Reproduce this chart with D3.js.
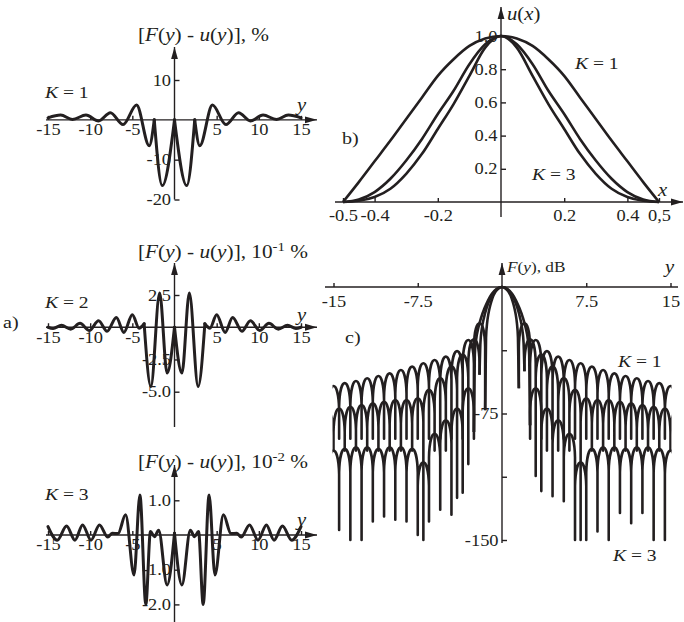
<!DOCTYPE html>
<html>
<head>
<meta charset="utf-8">
<script src="https://cdn.jsdelivr.net/npm/d3@7"></script>
<style>
  body { margin: 0; background: #fff; }
  svg { display: block; }
  text { font-family: "Liberation Serif", "Times New Roman", serif; white-space: pre; }
</style>
</head>
<body>
<svg id="figure" width="684" height="622"></svg>
<script>
const svg = d3.select("#figure");
const ink = "#231f20";
const wide = 1.15; // printed lettering is a bit wider than Liberation Serif

// ---------- a) error curves [F(y) - u(y)], points read as [y, value]
const aTickY = [-15, -10, -5, 5, 10, 15];
const a1Ticks = [10, -10, -20];
const a2Ticks = [2.5, -2.5, -5];
const a3Ticks = [1, -1, -2];

const a1Curve = [
  [-15, 0.5], [-13.5, 1.2], [-12.1, 0.1], [-10.5, 1.2], [-9.0, -0.3], [-7.6, 1.8],
  [-6.1, -1.2], [-4.5, 3.7], [-3.0, -6.5], [-2.4, 0], [-1.45, -16.5], [0, 0],
  [1.45, -16.5], [2.4, 0], [3.0, -6.5], [4.5, 3.7], [6.1, -1.2], [7.6, 1.8],
  [9.0, -0.3], [10.5, 1.2], [12.1, 0.1], [13.5, 1.2], [15, 0.5]
];
const a1Cusps = [-2.4, 0, 2.4];

const a2Curve = [
  [-15, 0.0], [-14.4, -0.1], [-13.4, 0.15], [-12.3, -0.15], [-11.2, 0.3], [-10.1, -0.25],
  [-9.0, 0.5], [-8.0, -0.32], [-6.9, 0.75], [-6.0, -0.4], [-5.0, 0.97], [-4.2, -0.07],
  [-3.6, 0.27], [-2.8, -4.6], [-1.76, 2.65], [-0.88, -3.55], [0, 0],
  [0.88, -3.55], [1.76, 2.65], [2.8, -4.6], [3.6, 0.27], [4.2, -0.07], [5.0, 0.97],
  [6.0, -0.4], [6.9, 0.75], [8.0, -0.32], [9.0, 0.5], [10.1, -0.25], [11.2, 0.3],
  [12.3, -0.15], [13.4, 0.15], [14.4, -0.1], [15, 0.0]
];
const a2Cusps = [-3.6, 0, 3.6];

const a3Curve = [
  [-15, 0.24], [-13.9, -0.15], [-12.8, 0.26], [-11.8, -0.15], [-10.9, 0.29], [-9.9, -0.15],
  [-8.9, 0.29], [-7.9, -0.06], [-7.4, 0.05], [-6.7, 0.04], [-5.8, 0.58], [-4.8, -1.15],
  [-4.1, 1.15], [-3.4, -2.0], [-2.85, 0.1], [-2.37, -0.05], [-1.88, 0.14], [-0.88, -1.44],
  [0, 0.05],
  [0.88, -1.44], [1.88, 0.14], [2.37, -0.05], [2.85, 0.1], [3.4, -2.0], [4.1, 1.15],
  [4.8, -1.15], [5.8, 0.58], [6.7, 0.04], [7.4, 0.05], [7.9, -0.06], [8.9, 0.29],
  [9.9, -0.15], [10.9, 0.29], [11.8, -0.15], [12.8, 0.26], [13.9, -0.15], [15, 0.24]
];
const a3Cusps = [0];

// ---------- b) amplitude distributions u(x)
const bX = [-0.5, -0.45, -0.4, -0.35, -0.3, -0.25, -0.2, -0.15, -0.1, -0.05, 0,
  0.05, 0.1, 0.15, 0.2, 0.25, 0.3, 0.35, 0.4, 0.45, 0.5];
const bK1 = [0, 0.12, 0.245, 0.37, 0.5, 0.63, 0.76, 0.86, 0.94, 0.985, 1,
  0.985, 0.94, 0.86, 0.76, 0.63, 0.5, 0.37, 0.245, 0.12, 0];
const bK2 = [0, 0.015, 0.06, 0.14, 0.25, 0.38, 0.53, 0.67, 0.83, 0.95, 1,
  0.95, 0.83, 0.67, 0.53, 0.38, 0.25, 0.14, 0.06, 0.015, 0];
const bK3 = [0, 0.007, 0.03, 0.08, 0.17, 0.29, 0.44, 0.59, 0.76, 0.93, 1,
  0.93, 0.76, 0.59, 0.44, 0.29, 0.17, 0.08, 0.03, 0.007, 0];
const bTicksX = [-0.5, -0.4, -0.2, 0.2, 0.4, 0.5];
const bTicksY = [0.2, 0.4, 0.6, 0.8, 1];

// ---------- c) patterns F(y), dB  (pattern is symmetric; null depths differ per side)
const cTicksX = [-15, -7.5, 7.5, 15];
const cTicksY = [-37.5, -75, -112.5, -150];

const cMain1 = [[0, 0], [0.3, -0.8], [0.6, -3], [0.85, -6.5], [1.05, -11], [1.2, -15.5], [1.32, -21], [1.42, -30]];
const cNulls1 = [1.5, 2.5, 3.5, 4.5, 5.5, 6.5, 7.5, 8.5, 9.5, 10.5, 11.5, 12.5, 13.5, 14.5, 15.5];
const cPeaks1 = [-21.5, -31.4, -38, -41.3, -43.3, -45.2, -47.2, -49.2, -51.2, -52.8, -54.1, -55.7, -57, -58.7];
const cDepth1R = [-60, -90, -90, -90, -90, -90, -90, -90, -90, -90, -90, -90, -90, -90, -90];
const cDepth1L = [-73, -90, -90, -90, -90, -90, -90, -90, -90, -90, -90, -90, -90, -90, -90];

const cMain2 = [[0, 0], [0.4, -1], [0.8, -4], [1.1, -7.5], [1.35, -12], [1.6, -18], [1.8, -25], [1.92, -33]];
const cNulls2 = [2, 3, 4, 5, 6, 7, 8, 9, 10, 11, 12, 13, 14, 15, 16];
const cPeaks2 = [-31, -40, -47, -54, -61, -66, -67, -67, -68, -69, -70, -71, -72, -74];
const cDepth2R = [-50, -112, -97, -97, -97, -150, -97, -97, -97, -97, -97, -97, -97, -97, -97];
const cDepth2L = [-52, -105, -125, -97, -97, -150, -97, -97, -97, -97, -97, -97, -97, -97, -97];

const cMain3 = [[0, 0], [0.5, -1.2], [0.9, -4], [1.25, -8], [1.55, -12.5], [1.85, -18], [2.1, -24], [2.3, -31], [2.42, -40]];
const cNulls3 = [2.5, 3.5, 4.5, 5.5, 6.5, 7.5, 8.5, 9.5, 10.5, 11.5, 12.5, 13.5, 14.5, 15.5];
const cPeaks3 = [-60, -72, -79, -87, -104, -96, -95, -95, -96, -95, -95, -96, -97];
const cDepth3R = [-82, -121, -124, -127, -150, -150, -145, -150, -134, -140, -134, -150, -150, -150];
const cDepth3L = [-86, -122, -135, -132, -139, -147, -139, -138, -136, -139, -150, -150, -144, -150];

// ---------- scales
const xA = d3.scaleLinear().domain([-15, 15]).range([48, 301]);
const yA1 = d3.scaleLinear().domain([-20, 10]).range([199.5, 80]);
const yA2 = d3.scaleLinear().domain([-5, 2.5]).range([391.7, 295]);
const yA3 = d3.scaleLinear().domain([-2, 1]).range([604.4, 500.3]);
const xB = d3.scaleLinear().domain([-0.5, 0.5]).range([343, 659]);
const yB = d3.scaleLinear().domain([0, 1]).range([202, 36]);
const xC = d3.scaleLinear().domain([-15, 15]).range([333.5, 670.5]);
const yC = d3.scaleLinear().domain([-150, 0]).range([540, 287]);

// ---------- helpers
function label(x, y, parts, size, anchor = "start") {
  const t = svg.append("text")
    .attr("transform", `translate(${x},${y}) scale(${wide},1)`)
    .attr("font-size", size)
    .attr("text-anchor", anchor)
    .attr("fill", ink);
  let lift = 0;
  parts.forEach(part => {
    const [str, style = ""] = typeof part === "string" ? [part] : part;
    const span = t.append("tspan").text(str);
    if (style.includes("i")) span.attr("font-style", "italic");
    const want = style.includes("s") ? size * 0.4 : 0;
    if (want !== lift) { span.attr("dy", lift - want); lift = want; }
    if (style.includes("s")) span.attr("font-size", size * 0.7);
  });
}

function axisLine(x1, y1, x2, y2, arrow) {
  svg.append("line")
    .attr("x1", x1).attr("y1", y1).attr("x2", x2).attr("y2", y2)
    .attr("stroke", ink).attr("stroke-width", 1.4);
  if (!arrow) return;
  const ang = Math.atan2(y2 - y1, x2 - x1);
  const len = 12, half = 3.4;
  const bx = x2 - len * Math.cos(ang), by = y2 - len * Math.sin(ang);
  const tri = [[x2, y2],
    [bx - half * Math.sin(ang), by + half * Math.cos(ang)],
    [bx + half * Math.sin(ang), by - half * Math.cos(ang)]];
  svg.append("path").attr("d", d3.line()(tri) + "Z").attr("fill", ink);
}

function styleAxis(g) {
  g.attr("font-family", null).attr("font-size", 16);
  g.select(".domain").remove();
  g.selectAll("line").attr("stroke", ink).attr("stroke-width", 1.4);
  g.selectAll("text").attr("fill", ink).attr("transform", `scale(${wide},1)`);
}

function bottomTicks(scale, y0, values, fmt, pad) {
  svg.append("g").attr("transform", `translate(0,${y0})`)
    .call(d3.axisBottom(scale).tickValues(values).tickFormat(fmt)
      .tickSizeInner(-4).tickSizeOuter(0).tickPadding(pad))
    .call(styleAxis);
}

function leftTicks(scale, x0, values, fmt, pad) {
  svg.append("g").attr("transform", `translate(${x0},0)`)
    .call(d3.axisLeft(scale).tickValues(values).tickFormat(fmt)
      .tickSizeInner(-5).tickSizeOuter(0).tickPadding(pad))
    .call(styleAxis);
}

function splitAtCusps(points, cusps) {
  const pieces = [];
  let piece = [];
  points.forEach(p => {
    piece.push(p);
    if (cusps.includes(p[0]) && piece.length > 1) { pieces.push(piece); piece = [p]; }
  });
  if (piece.length > 1) pieces.push(piece);
  return pieces;
}

function errorCurve(points, cusps, yScale) {
  const line = d3.line().x(d => xA(d[0])).y(d => yScale(d[1])).curve(d3.curveMonotoneX);
  svg.append("g").selectAll("path")
    .data(splitAtCusps(points, cusps))
    .join("path")
    .attr("d", line)
    .attr("fill", "none").attr("stroke", ink).attr("stroke-width", 3)
    .attr("stroke-linecap", "round").attr("stroke-linejoin", "round");
}

const plain = d => String(d);
const oneDec = d => d.toFixed(1);

// ---------- panel a
const aTitle = (sup) => ["[", ["F", "i"], "(", ["y", "i"], ") - ", ["u", "i"], "(", ["y", "i"], ")], "]
  .concat(sup ? ["10", [sup, "s"], " %"] : ["%"]);

[[yA1, a1Ticks, plain, 199.5, 47, 41, null, "1", 98, 111],
 [yA2, a2Ticks, oneDec, 427, 263, 258, "-1", "2", 308, 321],
 [yA3, a3Ticks, oneDec, 622, 465, 468, "-2", "3", 500, 526]].forEach(([ys, ticks, fmt, yBot, yTop, titleY, sup, k, kY, varY]) => {
  const y0 = ys(0);
  axisLine(46, y0, 317, y0, true);
  axisLine(xA(0), yBot, xA(0), yTop, true);
  bottomTicks(xA, y0, aTickY, plain, 4);
  leftTicks(ys, xA(0), ticks, fmt, 3);
  label(138, titleY, aTitle(sup), 18.5);
  label(45, kY, [["K", "i"], " = " + k], 17);
  label(297, varY, [["y", "i"]], 18);
});
label(3, 328, ["a)"], 17.5);

errorCurve(a1Curve, a1Cusps, yA1);
errorCurve(a2Curve, a2Cusps, yA2);
errorCurve(a3Curve, a3Cusps, yA3);

// ---------- panel b
axisLine(335, yB(0), 683, yB(0), true);
axisLine(xB(0), 217, xB(0), 7, true);
bottomTicks(xB, yB(0), bTicksX, d => d === 0.5 ? "0,5" : String(d), 8);
leftTicks(yB, xB(0), bTicksY, oneDec, 3);
label(507, 20, [["u", "i"], "(", ["x", "i"], ")"], 18);
label(342, 144, ["b)"], 17.5);
label(575, 69, [["K", "i"], " = 1"], 17);
label(532, 180, [["K", "i"], " = 3"], 17);
label(658, 196, [["x", "i"]], 18);

const bLine = d3.line().x((d, i) => xB(bX[i])).y(d => yB(d)).curve(d3.curveMonotoneX);
svg.append("g").selectAll("path")
  .data([bK1, bK2, bK3])
  .join("path")
  .attr("d", bLine)
  .attr("fill", "none").attr("stroke", ink).attr("stroke-width", 2.6)
  .attr("stroke-linejoin", "round");

// ---------- panel c
axisLine(325, yC(0), 678, yC(0), false);
axisLine(xC(0), 543, xC(0), 263, true);
bottomTicks(xC, yC(0), cTicksX, plain, 9);
leftTicks(yC, xC(0), cTicksY, d => (d === -75 || d === -150) ? String(d) : "", 3);
label(507, 272, [["F", "i"], "(", ["y", "i"], "), dB"], 15);
label(665, 273, [["y", "i"]], 18);
label(345, 343, ["c)"], 17.5);
label(618, 367, [["K", "i"], " = 1"], 17);
label(613, 561, [["K", "i"], " = 3"], 17);

svg.append("clipPath").attr("id", "clip-c")
  .append("rect")
  .attr("x", xC(-15) - 1).attr("y", 250)
  .attr("width", xC(15) - xC(-15) + 2).attr("height", 310);

const cLayer = svg.append("g").attr("clip-path", "url(#clip-c)");

function sidelobes(nulls, peaks, depths, side) {
  const p = d3.path();
  p.moveTo(xC(side * nulls[0]), yC(depths[0]));
  peaks.forEach((top, i) => {
    const a = side * nulls[i], b = side * nulls[i + 1];
    const shoulder = top - 14;
    const ctrl = (top - 0.25 * shoulder) / 0.75;
    p.lineTo(xC(a), yC(shoulder));
    p.bezierCurveTo(xC(a + (b - a) * 0.06), yC(ctrl), xC(b - (b - a) * 0.06), yC(ctrl), xC(b), yC(shoulder));
    p.lineTo(xC(b), yC(depths[i + 1]));
  });
  return p.toString();
}

const cLine = d3.line().x(d => xC(d[0])).y(d => yC(d[1])).curve(d3.curveMonotoneX);

[[cMain1, cNulls1, cPeaks1, cDepth1L, cDepth1R],
 [cMain2, cNulls2, cPeaks2, cDepth2L, cDepth2R],
 [cMain3, cNulls3, cPeaks3, cDepth3L, cDepth3R]].forEach(([main, nulls, peaks, depL, depR]) => {
  const lobe = [[-nulls[0], depL[0]]]
    .concat(main.slice(1).reverse().map(([y, v]) => [-y, v]))
    .concat(main)
    .concat([[nulls[0], depR[0]]]);
  const paths = [cLine(lobe), sidelobes(nulls, peaks, depR, 1), sidelobes(nulls, peaks, depL, -1)];
  cLayer.selectAll(null)
    .data(paths)
    .join("path")
    .attr("d", d => d)
    .attr("fill", "none").attr("stroke", ink).attr("stroke-width", 2.6)
    .attr("stroke-linejoin", "round").attr("stroke-linecap", "butt");
});
</script>
</body>
</html>
